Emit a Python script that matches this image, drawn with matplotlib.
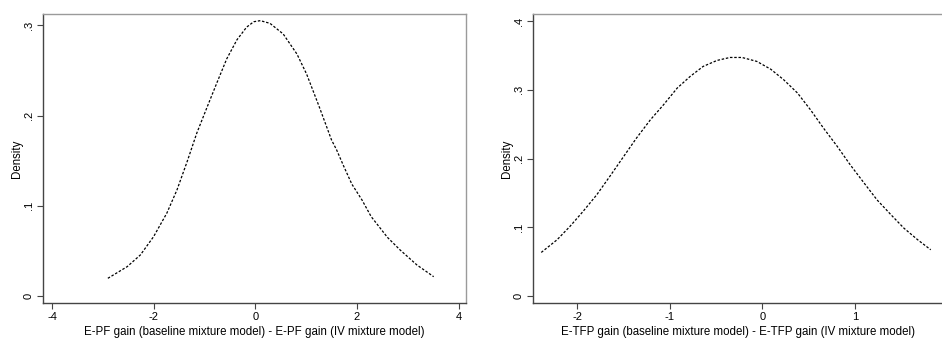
#!/usr/bin/env python3
"""Kernel density of gain differences, two panels (E-PF and E-TFP)."""

import matplotlib

matplotlib.use("Agg")
import matplotlib.pyplot as plt

# E-PF panel: curve
pf_x = [-2.90, -2.52, -2.26, -2.00, -1.74, -1.54, -1.34, -1.15, -0.95, -0.75,
        -0.56, -0.36, -0.17, -0.03, 0.10, 0.29, 0.55, 0.82, 1.01, 1.25,
        1.50, 1.60, 1.735, 1.90, 2.10, 2.28, 2.60, 2.85, 3.18, 3.51]
pf_y = [0.0196, 0.0325, 0.0455, 0.0658, 0.0918, 0.1176, 0.1490, 0.1806, 0.2090, 0.2370,
        0.2630, 0.2840, 0.2980, 0.3040, 0.3052, 0.3022, 0.2904, 0.2682, 0.2460, 0.2110,
        0.1730, 0.1620, 0.1445, 0.1240, 0.1064, 0.0880, 0.0650, 0.0510, 0.0344, 0.0214]

# E-TFP panel
tfp_x = [-2.39, -2.22, -2.08, -1.94, -1.79, -1.65, -1.50, -1.36, -1.21, -1.07,
         -0.92, -0.78, -0.64, -0.49, -0.35, -0.22, -0.06, 0.09, 0.23, 0.38,
         0.52, 0.66, 0.81, 0.95, 1.10, 1.24, 1.39, 1.53, 1.68, 1.82]
tfp_y = [0.0637, 0.0820, 0.1015, 0.1230, 0.1475, 0.1740, 0.2030, 0.2300, 0.2565, 0.2780,
         0.3026, 0.3195, 0.3340, 0.3427, 0.3470, 0.3470, 0.3413, 0.3300, 0.3147, 0.2953,
         0.2710, 0.2445, 0.2177, 0.1910, 0.1645, 0.1400, 0.1185, 0.0990, 0.0820, 0.0676]

pf_xticks = [-4, -2, 0, 2, 4]
pf_yticks = [0, 0.1, 0.2, 0.3]
tfp_xticks = [-2, -1, 0, 1]
tfp_yticks = [0, 0.1, 0.2, 0.3, 0.4]

pf_xlabel = "E-PF gain (baseline mixture model) - E-PF gain (IV mixture model)"
tfp_xlabel = "E-TFP gain (baseline mixture model) - E-TFP gain (IV mixture model)"

plt.rcParams["font.family"] = ["Liberation Sans", "DejaVu Sans"]

W, H = 942, 338
fig = plt.figure(figsize=(W / 100, H / 100), dpi=100)


def _fmt(v: float) -> str:
    if v == 0:
        return "0"
    return f"{v:.1f}".lstrip("0")


def _panel(rect, x, y, xlim, ylim, xticks, yticks, xlabel):
    left, top, right, bottom = rect
    ax = fig.add_axes([left / W, 1 - bottom / H, (right - left) / W, (bottom - top) / H])
    ax.plot(x, y, color="black", linewidth=0.9, linestyle=(0, (2.0, 1.4)))
    ax.set_xlim(*xlim)
    ax.set_ylim(*ylim)
    ax.set_xticks(xticks)
    ax.set_xticklabels([str(t) for t in xticks])
    ax.set_yticks(yticks)
    ax.set_yticklabels([_fmt(t) for t in yticks], rotation=90, va="center")
    ax.tick_params(direction="out", length=4, width=0.8, color="#444444", labelsize=8)
    ax.tick_params(axis="x", pad=2)
    ax.tick_params(axis="y", pad=3)
    for side in ("left", "bottom"):
        ax.spines[side].set_color("#444444")
        ax.spines[side].set_linewidth(1.0)
    for side in ("top", "right"):
        ax.spines[side].set_color("#9a9a9a")
        ax.spines[side].set_linewidth(1.0)
    ax.set_xlabel(xlabel, fontsize=8.3, labelpad=3.5)
    ax.set_ylabel("Density", fontsize=8.3, labelpad=0.5)
    return ax


_panel((43.3, 13.7, 465.7, 303.3), pf_x, pf_y, (-4.17, 4.14), (-0.0081, 0.3129),
       pf_xticks, pf_yticks, pf_xlabel)
_panel((533.3, 13.7, 943.5, 303.3), tfp_x, tfp_y, (-2.476, 1.958), (-0.0102, 0.4106),
       tfp_xticks, tfp_yticks, tfp_xlabel)

fig.savefig("out.png", dpi=100)
